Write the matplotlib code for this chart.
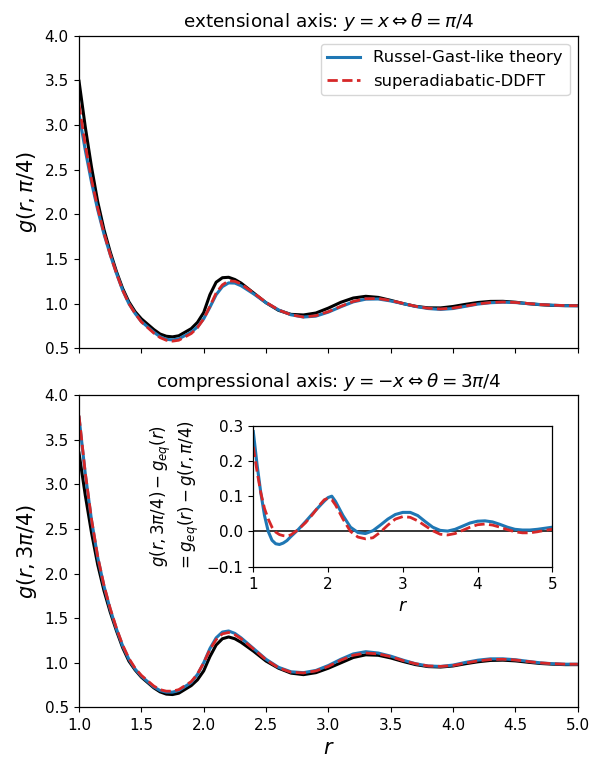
import matplotlib
matplotlib.use('Agg')
import matplotlib.pyplot as plt

plt.rcParams['font.size'] = 11
plt.rcParams['xtick.major.size'] = 3.85
plt.rcParams['ytick.major.size'] = 3.85
plt.rcParams['axes.linewidth'] = 0.9

# radial grid for the main panels
r = [1.00, 1.05, 1.10, 1.15, 1.20, 1.25, 1.30, 1.35, 1.40, 1.45, 1.50, 1.60, 1.65, 1.70, 1.75, 1.80,
     1.90, 1.95, 2.00, 2.05, 2.10, 2.15, 2.20, 2.25, 2.30, 2.40, 2.50, 2.60, 2.70, 2.80, 2.90, 3.00,
     3.10, 3.20, 3.30, 3.40, 3.50, 3.60, 3.70, 3.80, 3.90, 4.00, 4.10, 4.20, 4.30, 4.40, 4.50, 4.60,
     4.70, 4.80, 4.90, 5.00]

# extensional axis (theta = pi/4)
g_ext_sim = [3.49, 2.98, 2.53, 2.14, 1.83, 1.58, 1.36, 1.17, 1.02, 0.91, 0.83, 0.71, 0.66, 0.635, 0.628, 0.64,
             0.72, 0.79, 0.90, 1.10, 1.24, 1.29, 1.295, 1.27, 1.23, 1.12, 1.01, 0.925, 0.88, 0.873, 0.895, 0.95,
             1.015, 1.063, 1.082, 1.07, 1.037, 1.0, 0.97, 0.953, 0.952, 0.968, 0.992, 1.013, 1.025, 1.026, 1.016, 1.0,
             0.988, 0.98, 0.978, 0.978]
g_ext_rg = [3.12, 2.72, 2.36, 2.05, 1.78, 1.55, 1.34, 1.15, 1.00, 0.89, 0.80, 0.68, 0.63, 0.60, 0.594, 0.605,
            0.68, 0.74, 0.83, 0.96, 1.10, 1.19, 1.232, 1.23, 1.20, 1.11, 1.01, 0.93, 0.875, 0.85, 0.86, 0.905,
            0.965, 1.02, 1.05, 1.052, 1.03, 1.0, 0.968, 0.945, 0.935, 0.945, 0.97, 0.995, 1.01, 1.016, 1.012, 1.0,
            0.99, 0.982, 0.977, 0.975]
g_ext_dd = [3.23, 2.78, 2.39, 2.07, 1.79, 1.55, 1.34, 1.15, 1.00, 0.89, 0.795, 0.67, 0.62, 0.59, 0.58, 0.59,
            0.665, 0.73, 0.83, 0.97, 1.12, 1.21, 1.255, 1.25, 1.22, 1.12, 1.015, 0.93, 0.875, 0.85, 0.865, 0.91,
            0.97, 1.025, 1.055, 1.057, 1.035, 1.003, 0.97, 0.948, 0.94, 0.95, 0.973, 0.997, 1.012, 1.018, 1.013, 1.002,
            0.99, 0.983, 0.978, 0.977]

# compressional axis (theta = 3pi/4)
g_comp_sim = [3.35, 2.88, 2.46, 2.10, 1.81, 1.57, 1.36, 1.17, 1.02, 0.92, 0.84, 0.72, 0.675, 0.65, 0.645, 0.66,
              0.745, 0.81, 0.91, 1.07, 1.20, 1.27, 1.29, 1.27, 1.23, 1.13, 1.02, 0.94, 0.885, 0.868, 0.89, 0.94,
              1.00, 1.06, 1.09, 1.085, 1.055, 1.015, 0.98, 0.958, 0.953, 0.965, 0.99, 1.012, 1.027, 1.03, 1.022, 1.007,
              0.993, 0.985, 0.98, 0.98]
g_comp_rg = [3.75, 3.12, 2.60, 2.18, 1.86, 1.60, 1.38, 1.19, 1.04, 0.93, 0.85, 0.73, 0.69, 0.672, 0.672, 0.69,
             0.78, 0.87, 1.00, 1.16, 1.28, 1.345, 1.357, 1.33, 1.28, 1.16, 1.04, 0.95, 0.90, 0.89, 0.915, 0.97,
             1.04, 1.10, 1.125, 1.11, 1.075, 1.03, 0.99, 0.965, 0.96, 0.975, 1.005, 1.03, 1.045, 1.045, 1.035, 1.017,
             1.0, 0.99, 0.985, 0.985]
g_comp_dd = [3.77, 3.13, 2.61, 2.19, 1.87, 1.61, 1.39, 1.20, 1.05, 0.94, 0.86, 0.74, 0.70, 0.683, 0.683, 0.70,
             0.79, 0.875, 1.00, 1.15, 1.26, 1.325, 1.34, 1.315, 1.27, 1.155, 1.035, 0.945, 0.895, 0.887, 0.91, 0.96,
             1.03, 1.085, 1.11, 1.10, 1.07, 1.025, 0.99, 0.965, 0.96, 0.97, 0.998, 1.022, 1.037, 1.04, 1.032, 1.015,
             1.0, 0.99, 0.985, 0.985]

# inset: g(r,3pi/4) - g_eq(r)
r_in = [1.00, 1.05, 1.10, 1.15, 1.20, 1.25, 1.30, 1.35, 1.40, 1.45, 1.50, 1.60, 1.70, 1.80, 1.90, 1.95,
        2.00, 2.05, 2.10, 2.20, 2.30, 2.40, 2.50, 2.60, 2.70, 2.80, 2.90, 3.00, 3.10, 3.20, 3.30, 3.40,
        3.50, 3.60, 3.70, 3.80, 3.90, 4.00, 4.10, 4.20, 4.30, 4.40, 4.50, 4.60, 4.70, 4.80, 4.90, 5.00]
dg_rg = [0.283, 0.19, 0.11, 0.045, 0.0, -0.025, -0.035, -0.037, -0.033, -0.026, -0.015, 0.005, 0.028, 0.052, 0.075, 0.086,
         0.096, 0.100, 0.085, 0.045, 0.012, -0.003, -0.006, 0.002, 0.018, 0.035, 0.048, 0.054, 0.054, 0.045, 0.028, 0.012,
         0.003, 0.001, 0.006, 0.015, 0.024, 0.029, 0.030, 0.027, 0.020, 0.012, 0.006, 0.004, 0.004, 0.006, 0.009, 0.012]
dg_dd = [0.24, 0.17, 0.11, 0.065, 0.035, 0.012, -0.002, -0.009, -0.012, -0.013, -0.010, 0.005, 0.025, 0.050, 0.078, 0.090,
         0.094, 0.090, 0.075, 0.035, 0.0, -0.016, -0.021, -0.018, -0.002, 0.018, 0.035, 0.042, 0.040, 0.030, 0.016, 0.002,
         -0.008, -0.010, -0.006, 0.003, 0.012, 0.019, 0.021, 0.018, 0.012, 0.005, -0.001, -0.004, -0.004, -0.001, 0.003, 0.006]

blue = '#1f77b4'
red = '#d62728'

fig = plt.figure(figsize=(5.91, 7.57), dpi=100)
ax1 = fig.add_axes([0.1337, 0.5399, 0.8438, 0.4130])
ax2 = fig.add_axes([0.1337, 0.0654, 0.8438, 0.4128])

ax1.plot(r, g_ext_sim, color='k', lw=2.2)
ax1.plot(r, g_ext_rg, color=blue, lw=2.2, label='Russel-Gast-like theory')
ax1.plot(r, g_ext_dd, color=red, lw=2, ls='--', label='superadiabatic-DDFT')
ax1.set_xlim(1, 5)
ax1.set_ylim(0.5, 4.0)
ax1.tick_params(labelbottom=False)
ax1.set_ylabel(r'$g(r,\pi/4)$', fontsize=15)
ax1.set_title(r'extensional axis: $y=x\Leftrightarrow\theta=\pi/4$', fontsize=13.2)
ax1.legend(loc='upper right', fontsize=11.8)

ax2.plot(r, g_comp_sim, color='k', lw=2.2)
ax2.plot(r, g_comp_rg, color=blue, lw=2.2)
ax2.plot(r, g_comp_dd, color=red, lw=2, ls='--')
ax2.set_xlim(1, 5)
ax2.set_ylim(0.5, 4.0)
ax2.set_xlabel(r'$r$', fontsize=15)
ax2.set_ylabel(r'$g(r,3\pi/4)$', fontsize=15)
ax2.set_title(r'compressional axis: $y=-x\Leftrightarrow\theta=3\pi/4$', fontsize=13.2)

ins = fig.add_axes([0.4286, 0.2514, 0.5059, 0.1863])
ins.axhline(0, color='k', lw=1.1)
ins.plot(r_in, dg_rg, color=blue, lw=2.2)
ins.plot(r_in, dg_dd, color=red, lw=2, ls='--')
ins.set_xlim(1, 5)
ins.set_ylim(-0.1, 0.3)
ins.set_xticks([1, 2, 3, 4, 5])
ins.set_yticks([-0.1, 0.0, 0.1, 0.2, 0.3])
ins.set_xlabel(r'$r$', fontsize=12.5)
ins.set_ylabel('$g(r,3\\pi/4)-g_{eq}(r)$\n$=g_{eq}(r)-g(r,\\pi/4)$', fontsize=12)

fig.savefig('out.png', dpi=100)
